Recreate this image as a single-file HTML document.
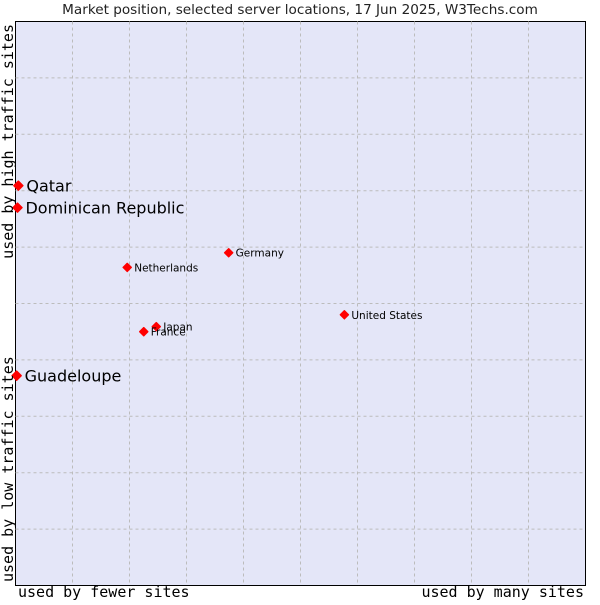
<!DOCTYPE html>
<html><head><meta charset="utf-8"><style>
body{margin:0;background:#fff;width:600px;height:600px;overflow:hidden}
svg text{font-family:"DejaVu Sans","Liberation Sans",sans-serif}
</style></head><body>
<svg id="chart" width="600" height="600" viewBox="0 0 600 600">
<text x="300" y="14" font-size="13.6" text-anchor="middle" fill="#222">Market position, selected server locations, 17 Jun 2025, W3Techs.com</text>
<rect x="15.5" y="21.5" width="570" height="564" fill="#e4e6f8" stroke="#000" stroke-width="1"/>
<g id="grid"></g>
<g id="points"></g>
<text x="18" y="597" font-size="15" style="font-family:'DejaVu Sans Mono','Liberation Mono',monospace" fill="#000">used by fewer sites</text>
<text x="584" y="597" font-size="15" text-anchor="end" style="font-family:'DejaVu Sans Mono','Liberation Mono',monospace" fill="#000">used by many sites</text>
<text transform="translate(13,24) rotate(-90)" font-size="15" text-anchor="end" style="font-family:'DejaVu Sans Mono','Liberation Mono',monospace" fill="#000">used by high traffic sites</text>
<text transform="translate(13,582) rotate(-90)" font-size="15" style="font-family:'DejaVu Sans Mono','Liberation Mono',monospace" fill="#000">used by low traffic sites</text>
</svg>
<script>
const names = ["Qatar","Dominican Republic","Guadeloupe","Netherlands","Germany","United States","Japan","France"];
const xs = [0.5,0.35,0.2,19.6,37.4,57.7,24.7,22.5];
const ys = [70.9,67.0,37.2,56.4,59.0,48.0,45.9,45.0];
const big = [true,true,true,false,false,false,false,false];
const NS="http://www.w3.org/2000/svg";
const X0=15.5,X1=585.5,Y0=585.5,Y1=21.5;
const sx=v=>X0+(X1-X0)*v/100, sy=v=>Y0-(Y0-Y1)*v/100;
const grid=document.getElementById('grid');
for(let i=1;i<10;i++){
  const lv=document.createElementNS(NS,'line');
  
  
  const gx=sx(i*10);
  lv.setAttribute('x1',gx);lv.setAttribute('x2',gx);lv.setAttribute('y1',Y1);lv.setAttribute('y2',Y0);
  lv.setAttribute('stroke','#bcbcbc');lv.setAttribute('stroke-dasharray','3,3');
  grid.appendChild(lv);
  const lh=document.createElementNS(NS,'line');
  
  
  const gy=sy(i*10);
  lh.setAttribute('y1',gy);lh.setAttribute('y2',gy);lh.setAttribute('x1',X0);lh.setAttribute('x2',X1);
  lh.setAttribute('stroke','#bcbcbc');lh.setAttribute('stroke-dasharray','3,3');
  grid.appendChild(lh);
}
const pts=document.getElementById('points');
names.forEach((n,i)=>{
  const px=sx(xs[i]),py=sy(ys[i]);
  const r=big[i]?4.5:4;
  const d=document.createElementNS(NS,'path');
  
  
  d.setAttribute('d',`M${px},${py-r}L${px+r},${py}L${px},${py+r}L${px-r},${py}Z`);
  d.setAttribute('fill','#f00');d.setAttribute('stroke','#f00');d.setAttribute('stroke-width','1.5');d.setAttribute('stroke-linejoin','round');
  pts.appendChild(d);
  const t=document.createElementNS(NS,'text');
  
  
  t.setAttribute('x',px+(big[i]?8:7));
  t.setAttribute('y',py+(big[i]?6:4));
  t.setAttribute('font-size',big[i]?'16':'10.5');
  t.setAttribute('fill','#000');
  t.textContent=n;
  pts.appendChild(t);
});
</script>
</body></html>
